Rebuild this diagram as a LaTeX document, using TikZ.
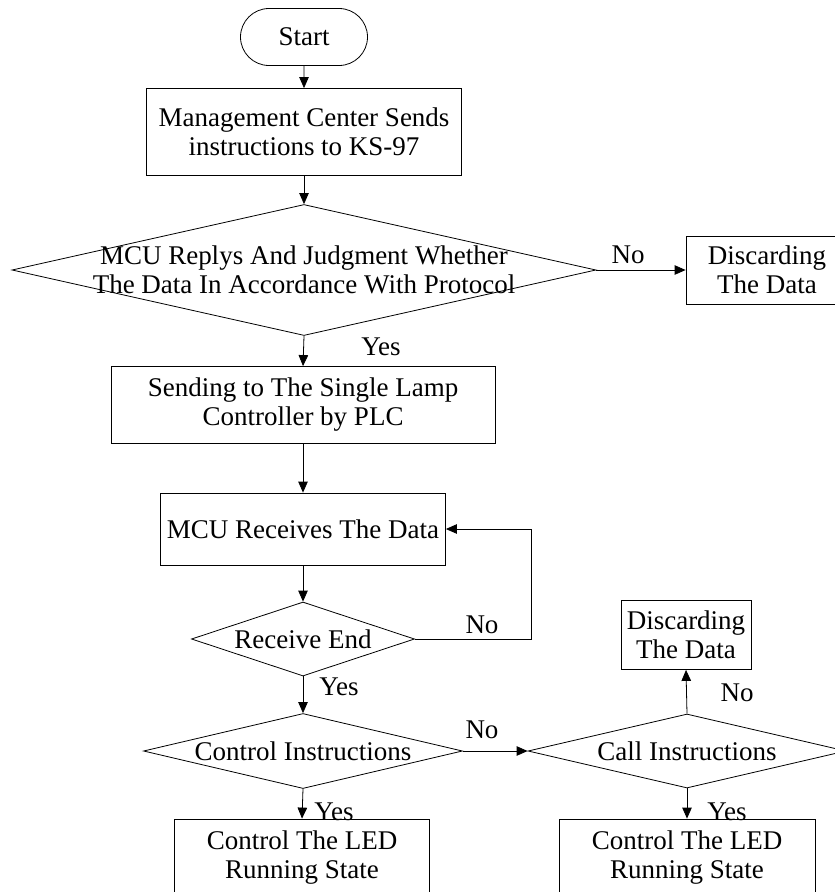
\documentclass[tikz,border=0pt]{standalone}
\usepackage{fontspec}
\setmainfont{Liberation Serif}
\usetikzlibrary{shapes,arrows.meta}

\begin{document}
\begin{tikzpicture}[x=1pt,y=-1pt,line width=0.8pt,
                   every node/.style={font=\fontsize{27}{29}\selectfont,align=center,inner sep=0pt},
                   block/.style={draw,rectangle}, decision/.style={draw,diamond,inner sep=0pt},
                   line/.style={-{Triangle[length=11pt,width=9.5pt]}}]
\useasboundingbox (0,0) rectangle (835,892);
\node[draw,rounded rectangle,minimum width=127pt,minimum height=57pt] (start) at (304,37) {Start};
\node[block,minimum width=315pt,minimum height=87pt] (send) at (304,132) {Management Center Sends\\instructions to KS-97};
\node[decision,minimum width=584pt,minimum height=131pt,
      label={center:MCU Replys And Judgment Whether\\The Data In Accordance With Protocol}] (check) at (304,270) {};
\node[block,minimum width=162pt,minimum height=68pt] (discard1) at (767,270) {Discarding\\The Data};
\node[block,minimum width=384pt,minimum height=77pt] (plc) at (303,405) {Sending to The Single Lamp\\Controller by PLC};
\node[block,minimum width=285pt,minimum height=72pt] (receive) at (303,529) {MCU Receives The Data};
\node[decision,minimum width=223pt,minimum height=74pt,label={center:Receive End}] (end) at (303,639) {};
\node[decision,minimum width=319pt,minimum height=75pt,label={center:Control Instructions}] (control) at (303,751) {};
\node[decision,minimum width=318pt,minimum height=74pt,label={center:Call Instructions}] (call) at (687,751) {};
\node[block,minimum width=130pt,minimum height=69pt] (discard2) at (686,635) {Discarding\\The Data};
\node[block,minimum width=255pt,minimum height=78pt] (led1) at (302,858) {Control The LED\\Running State};
\node[block,minimum width=256pt,minimum height=78pt] (led2) at (687,858) {Control The LED\\Running State};

\draw[line] (start) -- (send);
\draw[line] (send) -- (check);
\draw[line] (check.east) -- (discard1.west);
\draw[line] (check.south) -- (plc.north);
\draw[line] (plc) -- (receive);
\draw[line] (receive) -- (end);
\draw[line] (end.east) -- ++(116,0) |- (receive.east);
\draw[line] (end.south) -- (control.north);
\draw[line] (control.east) -- (call.west);
\draw[line] (call.north) -- (discard2.south);
\draw[line] (control.south) -- (led1.north);
\draw[line] (call.south) -- (led2.north);

\node (no1) at (628,255) {No};
\node (yes1) at (381,347) {Yes};
\node (no2) at (482,625) {No};
\node (yes2) at (339,687) {Yes};
\node (no3) at (482,730) {No};
\node (no4) at (737,693) {No};
\node (yes3) at (334,812) {Yes};
\node (yes4) at (727,812) {Yes};
\end{tikzpicture}
\end{document}
